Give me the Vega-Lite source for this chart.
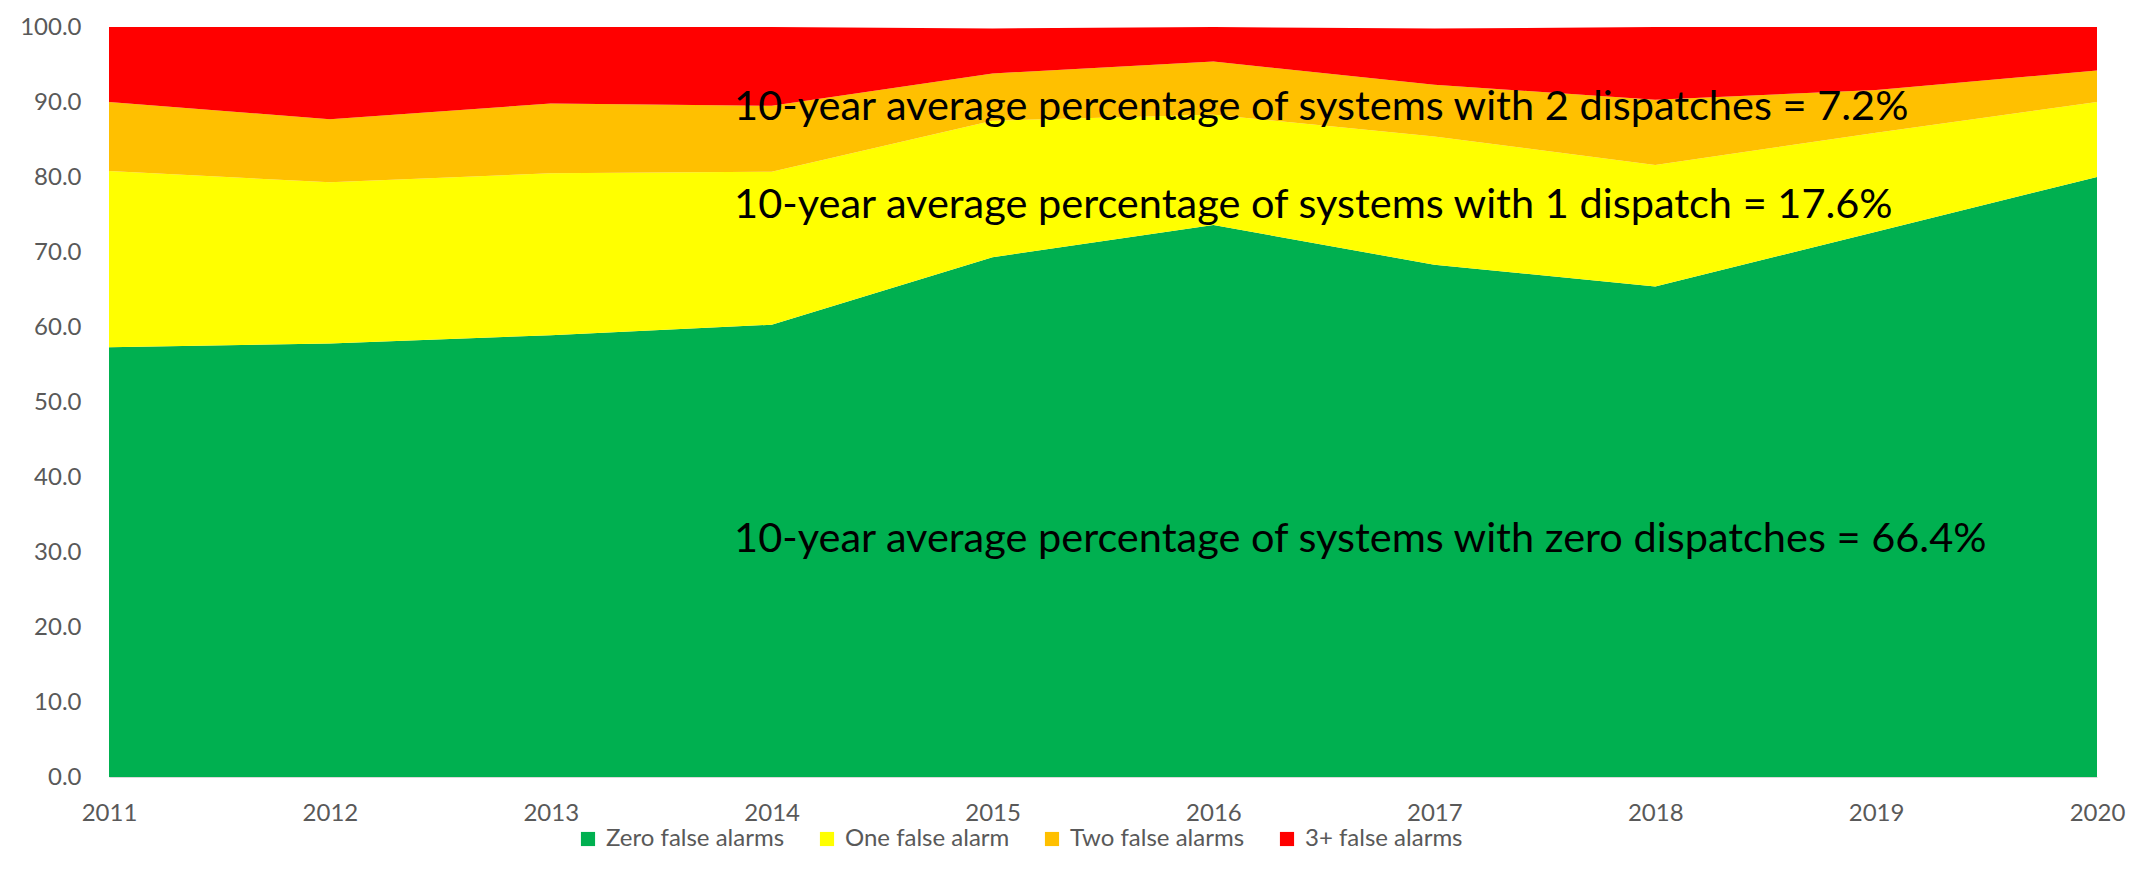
{
  "$schema": "https://vega.github.io/schema/vega-lite/v6.json",
  "width": 1988,
  "height": 750,
  "autosize": {"type": "none"},
  "padding": {"left": 109, "top": 27, "right": 36, "bottom": 110},
  "background": "white",
  "config": {"view": {"stroke": null}, "font": "Lato"},
  "datasets": {
    "alarms": [
      {"year": 2011, "series": "Zero false alarms", "k": 1, "pct": 57.3},
      {"year": 2011, "series": "One false alarm", "k": 2, "pct": 23.5},
      {"year": 2011, "series": "Two false alarms", "k": 3, "pct": 9.2},
      {"year": 2011, "series": "3+ false alarms", "k": 4, "pct": 10.0},
      {"year": 2012, "series": "Zero false alarms", "k": 1, "pct": 57.8},
      {"year": 2012, "series": "One false alarm", "k": 2, "pct": 21.5},
      {"year": 2012, "series": "Two false alarms", "k": 3, "pct": 8.4},
      {"year": 2012, "series": "3+ false alarms", "k": 4, "pct": 12.3},
      {"year": 2013, "series": "Zero false alarms", "k": 1, "pct": 58.9},
      {"year": 2013, "series": "One false alarm", "k": 2, "pct": 21.6},
      {"year": 2013, "series": "Two false alarms", "k": 3, "pct": 9.3},
      {"year": 2013, "series": "3+ false alarms", "k": 4, "pct": 10.2},
      {"year": 2014, "series": "Zero false alarms", "k": 1, "pct": 60.3},
      {"year": 2014, "series": "One false alarm", "k": 2, "pct": 20.4},
      {"year": 2014, "series": "Two false alarms", "k": 3, "pct": 8.8},
      {"year": 2014, "series": "3+ false alarms", "k": 4, "pct": 10.5},
      {"year": 2015, "series": "Zero false alarms", "k": 1, "pct": 69.3},
      {"year": 2015, "series": "One false alarm", "k": 2, "pct": 18.2},
      {"year": 2015, "series": "Two false alarms", "k": 3, "pct": 6.3},
      {"year": 2015, "series": "3+ false alarms", "k": 4, "pct": 6.0},
      {"year": 2016, "series": "Zero false alarms", "k": 1, "pct": 73.6},
      {"year": 2016, "series": "One false alarm", "k": 2, "pct": 14.7},
      {"year": 2016, "series": "Two false alarms", "k": 3, "pct": 7.1},
      {"year": 2016, "series": "3+ false alarms", "k": 4, "pct": 4.6},
      {"year": 2017, "series": "Zero false alarms", "k": 1, "pct": 68.3},
      {"year": 2017, "series": "One false alarm", "k": 2, "pct": 17.1},
      {"year": 2017, "series": "Two false alarms", "k": 3, "pct": 6.9},
      {"year": 2017, "series": "3+ false alarms", "k": 4, "pct": 7.5},
      {"year": 2018, "series": "Zero false alarms", "k": 1, "pct": 65.4},
      {"year": 2018, "series": "One false alarm", "k": 2, "pct": 16.2},
      {"year": 2018, "series": "Two false alarms", "k": 3, "pct": 8.7},
      {"year": 2018, "series": "3+ false alarms", "k": 4, "pct": 9.7},
      {"year": 2019, "series": "Zero false alarms", "k": 1, "pct": 72.7},
      {"year": 2019, "series": "One false alarm", "k": 2, "pct": 13.2},
      {"year": 2019, "series": "Two false alarms", "k": 3, "pct": 5.7},
      {"year": 2019, "series": "3+ false alarms", "k": 4, "pct": 8.4},
      {"year": 2020, "series": "Zero false alarms", "k": 1, "pct": 80.0},
      {"year": 2020, "series": "One false alarm", "k": 2, "pct": 10.0},
      {"year": 2020, "series": "Two false alarms", "k": 3, "pct": 4.2},
      {"year": 2020, "series": "3+ false alarms", "k": 4, "pct": 5.8}
    ],
    "notes": [
      {"year": 2013.83, "pct": 87.6, "label": "10-year average percentage of systems with 2 dispatches = 7.2%"},
      {"year": 2013.83, "pct": 74.5, "label": "10-year average percentage of systems with 1 dispatch = 17.6%"},
      {"year": 2013.83, "pct": 30.0, "label": "10-year average percentage of systems with zero dispatches = 66.4%"}
    ]
  },
  "layer": [
    {
      "data": {"name": "alarms"},
      "mark": {"type": "area", "interpolate": "linear"},
      "encoding": {
        "x": {
          "field": "year", "type": "quantitative",
          "scale": {"domain": [2011, 2020], "nice": false, "zero": false},
          "axis": {"values": [2011, 2012, 2013, 2014, 2015, 2016, 2017, 2018, 2019, 2020], "format": "d", "title": null, "grid": false, "ticks": false, "domain": true, "domainColor": "#d9d9d9", "labelFontSize": 24, "labelColor": "#595959", "labelPadding": 24, "labelFlush": false}
        },
        "y": {
          "field": "pct", "type": "quantitative", "stack": "zero",
          "scale": {"domain": [0, 100], "nice": false},
          "axis": {"values": [0, 10, 20, 30, 40, 50, 60, 70, 80, 90, 100], "format": ".1f", "title": null, "grid": false, "ticks": false, "domain": false, "labelFontSize": 24, "labelColor": "#595959", "labelPadding": 28}
        },
        "color": {
          "field": "series", "type": "nominal",
          "scale": {"domain": ["Zero false alarms", "One false alarm", "Two false alarms", "3+ false alarms"], "range": ["#00B050", "#FFFF00", "#FFC000", "#FF0000"]},
          "legend": {"orient": "none", "legendX": 467, "legendY": 800, "direction": "horizontal", "title": null, "symbolType": "square", "symbolSize": 200, "symbolStrokeWidth": 0, "labelFontSize": 24, "labelLimit": 0, "labelColor": "#595959", "columnPadding": 30, "labelOffset": 6}
        },
        "order": {"field": "k", "type": "quantitative"}
      }
    },
    {
      "data": {"name": "notes"},
      "mark": {"type": "text", "align": "left", "baseline": "alphabetic", "fontSize": 41.5, "color": "#000000"},
      "encoding": {
        "x": {"field": "year", "type": "quantitative", "title": null},
        "y": {"field": "pct", "type": "quantitative", "title": null},
        "text": {"field": "label"}
      }
    }
  ]
}
